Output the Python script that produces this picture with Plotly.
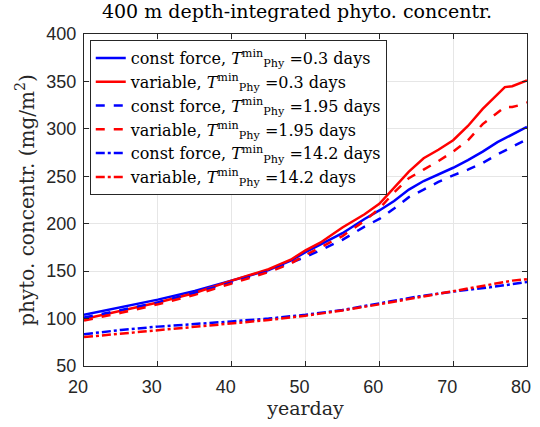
import plotly.graph_objects as go

x_bs = [20,25,30,35,40,45,48,50,52,55,58,60,62,64,66,68,70,72,74,76,78,80]
y_bs = [104,112,120,129,140,151,161,170,178,190,205,214,224,236,245,252,259,267,276,286,294,302]

x_rs = [20,25,30,35,40,45,48,50,52,55,58,60,62,64,66,68,70,72,74,76,77,78,79,80]
y_rs = [99.5,108,117,127,140,152,162,172,180,196,210,221,238,255,269,278,288,303,321,337,344,345,348,351]

x_bd = [20,25,30,35,40,45,48,50,52,55,58,60,62,64,66,68,70,72,74,76,78,79.5]
y_bd = [101,109,117,127,138,150,159,165,172,183,197,205,216,228,236,244,251,257,264,273,281,287]

x_rd = [20,25,30,35,40,45,48,50,52,55,58,60,62,64,66,68,70,72,74,76,77,78,79,80]
y_rd = [98,106,115,125,137,149,158,167,175,187,203,216,233,248,257,266,276,288,305,317,323,323,325,328]

x_bdd = [20,25,30,35,40,45,50,55,60,65,70,75,80]
y_bdd = [83.5,88,91.5,94,97,100,104,109,116,123,128.5,133,138.5]

x_rdd = [20,25,30,35,40,45,50,55,60,65,70,75,78,80]
y_rdd = [80.5,84,88,91,95,98.5,103,108.5,115,122,128.5,136,140,141.5]

x_ticks = [20, 30, 40, 50, 60, 70, 80]
y_ticks = [50, 100, 150, 200, 250, 300, 350, 400]

T = "<i>T</i><sup>min</sup><sub>Phy</sub>"
series = [
    (x_bs, y_bs, "#0000ff", "solid", f"const force, {T} =0.3 days"),
    (x_rs, y_rs, "#ff0000", "solid", f"variable, {T} =0.3 days"),
    (x_bd, y_bd, "#0000ff", "dash", f"const force, {T} =1.95 days"),
    (x_rd, y_rd, "#ff0000", "dash", f"variable, {T} =1.95 days"),
    (x_bdd, y_bdd, "#0000ff", "dashdot", f"const force, {T} =14.2 days"),
    (x_rdd, y_rdd, "#ff0000", "dashdot", f"variable, {T} =14.2 days"),
]

fig = go.Figure()
for xs, ys, c, d, name in series:
    fig.add_trace(go.Scatter(x=xs, y=ys, mode="lines", name=name,
                             line=dict(color=c, width=2.5, dash=d)))

serif = "DejaVu Serif, Liberation Serif, serif"
sans = "Liberation Sans, Arial, sans-serif"

axis_common = dict(showline=True, linecolor="#262626", linewidth=1, mirror="ticks",
                   ticks="inside", ticklen=5, tickcolor="#262626",
                   showgrid=True, gridcolor="#e6e6e6", gridwidth=1, zeroline=False,
                   ticklabeloverflow="allow",
                   tickfont=dict(family=sans, size=18, color="#262626"))

fig.update_layout(
    width=540, height=427,
    margin=dict(l=84, r=9, t=34, b=61),
    paper_bgcolor="white", plot_bgcolor="white",
    title=dict(text="400 m depth-integrated phyto. concentr.", x=0.55, xanchor="center",
               y=0.988, yanchor="top",
               font=dict(family=serif, size=19, color="black")),
    xaxis=dict(range=[20, 80], tickvals=x_ticks, ticklabelshift=-6, ticklabelstandoff=4,
               title=dict(text="yearday", font=dict(family=serif, size=19, color="#262626"), standoff=6),
               **axis_common),
    yaxis=dict(range=[50, 400], tickvals=y_ticks, ticklabelstandoff=3,
               title=dict(text="phyto. concentr. (mg/m<sup>2</sup>)", font=dict(family=serif, size=20, color="#262626"), standoff=6),
               **axis_common),
    legend=dict(x=0.013, y=0.982, xanchor="left", yanchor="top",
                bgcolor="white", bordercolor="#262626", borderwidth=1,
                font=dict(family=serif, size=16, color="black"),
                tracegroupgap=0, itemwidth=30),
    showlegend=True,
)

fig.write_html("out.html")
